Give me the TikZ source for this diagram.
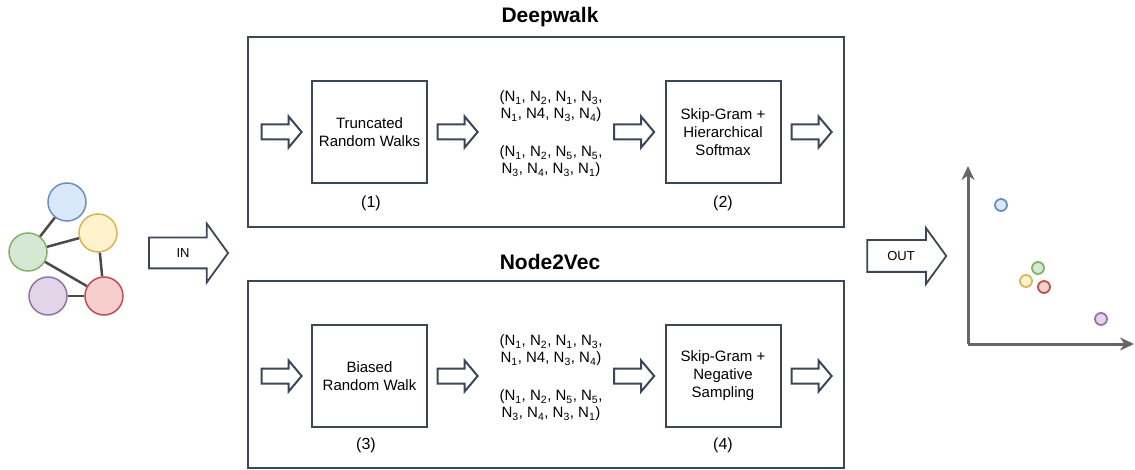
\documentclass[tikz,border=0pt]{standalone}
\usepackage{fontspec}
\setmainfont{Liberation Sans}
\usetikzlibrary{shapes.arrows,arrows.meta}

\definecolor{frame}{HTML}{3B4757}
\definecolor{edgegray}{HTML}{4A4A4A}
\definecolor{axisgray}{HTML}{666666}
\definecolor{bluefill}{HTML}{DAE8FC}\definecolor{bluedraw}{HTML}{6C8EBF}
\definecolor{yelfill}{HTML}{FFF2CC}\definecolor{yeldraw}{HTML}{D6B656}
\definecolor{grnfill}{HTML}{D5E8D4}\definecolor{grndraw}{HTML}{82B366}
\definecolor{purfill}{HTML}{E1D5E7}\definecolor{purdraw}{HTML}{9673A6}
\definecolor{redfill}{HTML}{F8CECC}\definecolor{reddraw}{HTML}{B85450}

% walk tokens
\newcommand{\Nn}[1]{N\textsubscript{#1}}

\tikzset{
  panel/.style = {draw=frame, line width=2pt, minimum width=596pt, inner sep=0pt},
  stage/.style = {draw=frame, line width=2pt, minimum width=115pt, minimum height=102pt,
                  inner sep=0pt, align=center, font=\fontsize{15}{18}\selectfont},
  walks/.style = {align=center, inner sep=0pt, font=\fontsize{15}{17}\selectfont},
  title/.style = {font=\bfseries\fontsize{21}{24}\selectfont},
  tag/.style   = {font=\fontsize{16}{18}\selectfont},
  fat/.style   = {single arrow, draw=frame, fill=white, line width=2pt, inner xsep=0pt,
                  inner ysep=6.5pt, minimum height=40pt, single arrow head extend=8pt,
                  single arrow tip angle=100},
  bigfat/.style = {single arrow, draw=frame, fill=white, line width=1.8pt, inner xsep=0pt,
                  text height=9pt, text depth=0pt, minimum height=79pt,
                  font=\fontsize{13}{15}\selectfont, single arrow tip angle=108},
  vertex/.style = {circle, line width=1.5pt, minimum size=38pt, inner sep=0pt},
  link/.style   = {edgegray, line width=2.5pt},
  dot/.style    = {circle, line width=1.8pt, minimum size=12pt, inner sep=0pt},
  axisline/.style = {axisgray, line width=3pt, -{Stealth[length=14pt,width=13pt]}},
}

\begin{document}
\begin{tikzpicture}[x=1pt, y=-1pt]
\useasboundingbox (0,0) rectangle (1135,470);

% input graph
\node[vertex, fill=bluefill, draw=bluedraw] (gb) at (67,202) {};
\node[vertex, fill=yelfill, draw=yeldraw] (gy) at (98,233) {};
\node[vertex, fill=grnfill, draw=grndraw] (gg) at (28,252) {};
\node[vertex, fill=purfill, draw=purdraw] (gp) at (48,296) {};
\node[vertex, fill=redfill, draw=reddraw] (gr) at (104,296) {};
\draw[link] (gb) -- (gg);
\draw[link] (gg) -- (gy);
\draw[link] (gg) -- (gr);
\draw[link] (gy) -- (gr);
\draw[link] (gp) -- (gr);

\node[bigfat, inner ysep=10pt, single arrow head extend=14pt] (in) at (183,253) {IN};

% Deepwalk
\node[title] (dwtitle) at (550,17) {Deepwalk};
\node[panel, minimum height=190pt] (dwbox) at (546,132) {};
\node[fat] (dw1) at (278.5,132) {};
\node[stage] (trw) at (369.5,132) {Truncated\\Random Walks};
\node[fat] (dw2) at (454.5,132) {};
\node[walks] (dwa) at (551,106.5) {(\Nn1, \Nn2, \Nn1, \Nn3,\\\Nn1, N4, \Nn3, \Nn4)};
\node[walks] (dwb) at (551,161.5) {(\Nn1, \Nn2, \Nn5, \Nn5,\\\Nn3, \Nn4, \Nn3, \Nn1)};
\node[fat] (dw3) at (631,132) {};
\node[stage] (hs) at (723,132) {Skip-Gram +\\Hierarchical\\Softmax};
\node[fat] (dw4) at (808.5,132) {};
\node[tag] (t1) at (371,203) {(1)};
\node[tag] (t2) at (723,203) {(2)};

% Node2Vec
\node[title] (nvtitle) at (550,262) {Node2Vec};
\node[panel, minimum height=187pt] (nvbox) at (546,374.5) {};
\node[fat] (nv1) at (278.5,376) {};
\node[stage] (brw) at (369.5,376) {Biased\\Random Walk};
\node[fat] (nv2) at (454.5,376) {};
\node[walks] (nva) at (551,350.5) {(\Nn1, \Nn2, \Nn1, \Nn3,\\\Nn1, N4, \Nn3, \Nn4)};
\node[walks] (nvb) at (551,405.5) {(\Nn1, \Nn2, \Nn5, \Nn5,\\\Nn3, \Nn4, \Nn3, \Nn1)};
\node[fat] (nv3) at (631,376) {};
\node[stage] (ns) at (723,376) {Skip-Gram +\\Negative\\Sampling};
\node[fat] (nv4) at (808.5,376) {};
\node[tag] (t3) at (366,445) {(3)};
\node[tag] (t4) at (723,445) {(4)};

\node[bigfat, inner ysep=10.5pt, single arrow head extend=12pt] (out) at (901,256) {OUT};

% embedding space
\coordinate (origin) at (968,344);
\coordinate (ytop) at (968,166);
\coordinate (xend) at (1134,344);
\draw[axisline] (origin) -- (ytop);
\draw[axisline] (origin) -- (xend);
\node[dot, fill=bluefill, draw=bluedraw] (eb) at (1001,205) {};
\node[dot, fill=grnfill, draw=grndraw] (eg) at (1038,268) {};
\node[dot, fill=yelfill, draw=yeldraw] (ey) at (1026,281) {};
\node[dot, fill=redfill, draw=reddraw] (er) at (1044,287) {};
\node[dot, fill=purfill, draw=purdraw] (ep) at (1101,319) {};
\end{tikzpicture}
\end{document}
